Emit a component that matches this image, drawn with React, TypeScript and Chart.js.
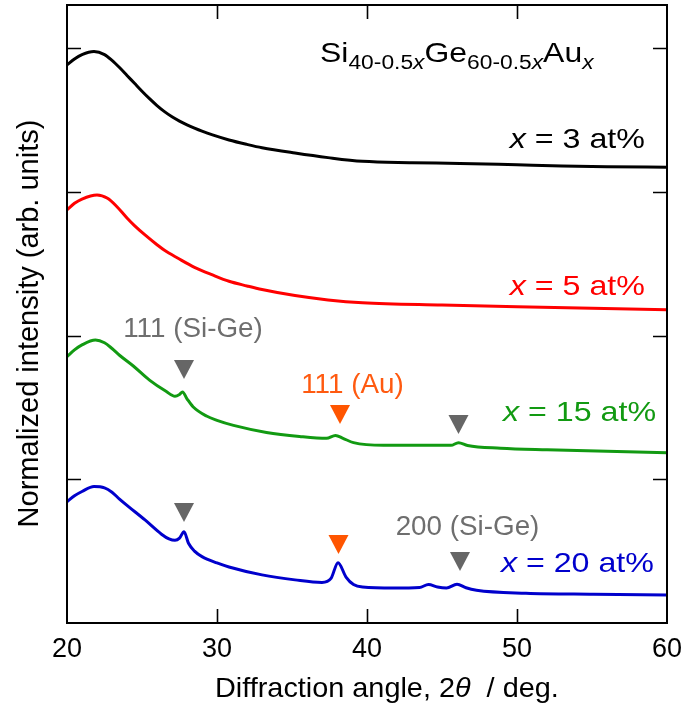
import React, { useEffect, useRef } from "react";
import { Chart, registerables } from "chart.js";

Chart.register(...registerables);

const FONT = "'Liberation Sans', Arial, Helvetica, sans-serif";

// ---- axes ----
const xTicks = [20, 30, 40, 50, 60];
const yTickLevels = [1, 2, 3, 4];

// ---- series (normalized intensity, stacked with offsets) ----
const seriesNames = ["3", "5", "15", "20"];
const seriesColors = ["#000000", "#ff0000", "#129a12", "#0000cc"];
const seriesOffsets = [3, 2, 1, 0];

const anglesX3 = [20, 20.5, 21, 21.8, 22.5, 23, 23.5, 24, 24.5, 25, 25.5, 26, 26.5, 27, 27.5, 28, 28.5, 29, 29.7, 30.8, 32, 33, 35.2, 37.4, 39.7, 43, 46.2, 50, 53, 56, 60];
const valuesX3 = [0.883, 0.925, 0.955, 0.976, 0.955, 0.915, 0.865, 0.81, 0.755, 0.7, 0.648, 0.6, 0.558, 0.522, 0.492, 0.466, 0.443, 0.422, 0.396, 0.361, 0.33, 0.307, 0.27, 0.238, 0.212, 0.203, 0.198, 0.188, 0.18, 0.175, 0.171];

const anglesX5 = [20, 20.5, 21, 22, 22.7, 23.3, 24, 24.5, 25.2, 26, 26.5, 27.4, 28.5, 29.7, 30.8, 32, 33, 35.2, 37.4, 39.7, 45, 50, 55, 60];
const valuesX5 = [0.874, 0.92, 0.95, 0.978, 0.955, 0.9, 0.818, 0.765, 0.7, 0.632, 0.593, 0.538, 0.475, 0.422, 0.378, 0.345, 0.32, 0.278, 0.248, 0.228, 0.212, 0.2, 0.19, 0.18];

const anglesX15 = [20, 20.5, 21, 21.9, 22.5, 23, 23.5, 24.4, 25.5, 26.6, 27.2, 27.5, 27.7, 28.0, 28.4, 29.3, 30, 31.1, 33.3, 35.5, 37.3, 37.9, 38.4, 39.1, 41.1, 44.4, 45.6, 46.1, 46.7, 48.9, 52, 56, 60];
const valuesX15 = [0.853, 0.9, 0.935, 0.969, 0.95, 0.91, 0.863, 0.79, 0.69, 0.612, 0.578, 0.59, 0.607, 0.56, 0.505, 0.44, 0.41, 0.375, 0.326, 0.298, 0.285, 0.305, 0.285, 0.255, 0.236, 0.236, 0.236, 0.255, 0.235, 0.216, 0.205, 0.195, 0.185];

const anglesX20 = [20, 20.5, 21, 21.8, 22.5, 23, 23.5, 24.1, 25.2, 26.3, 26.8, 27.2, 27.5, 27.8, 28.1, 28.5, 29.0, 30, 30.8, 33, 35.2, 37.0, 37.6, 38.07, 38.6, 39.1, 39.7, 41.8, 43.5, 44.1, 44.7, 45.3, 46.0, 46.6, 47.3, 50.6, 55.1, 60];
const valuesX20 = [0.844, 0.885, 0.915, 0.949, 0.94, 0.91, 0.862, 0.81, 0.717, 0.618, 0.585, 0.575, 0.59, 0.635, 0.555, 0.5, 0.462, 0.418, 0.39, 0.335, 0.3, 0.282, 0.31, 0.42, 0.32, 0.268, 0.25, 0.243, 0.247, 0.268, 0.25, 0.243, 0.27, 0.245, 0.228, 0.207, 0.2, 0.195];

const seriesAngles = [anglesX3, anglesX5, anglesX15, anglesX20];
const seriesValues = [valuesX3, valuesX5, valuesX15, valuesX20];

// series label placement (right edge angle, baseline level)
const labelRightAngles = [58.53, 58.53, 59.27, 59.13];
const labelBaselines = [3.306, 2.28, 1.406, 0.355];

// ---- peak markers ----
const markerAngles = [27.8, 38.2, 46.1, 27.8, 38.1, 46.2];
const markerTops = [1.83, 1.517, 1.447, 0.835, 0.612, 0.494];
const markerColors = ["#666666", "#ff5500", "#666666", "#666666", "#ff5500", "#666666"];

// ---- peak labels ----
const peakLabels = ["111 (Si-Ge)", "111 (Au)", "200 (Si-Ge)"];
const peakLabelAngles = [28.4, 39.03, 46.7];
const peakLabelBaselines = [1.992, 1.598, 0.612];
const peakLabelColors = ["#6e6e6e", "#ff5a10", "#6e6e6e"];

type Part = { text: string; italic?: boolean; size: number; dy?: number };

function drawRich(ctx: CanvasRenderingContext2D, parts: Part[], x: number, y: number, align: "left" | "center" | "right", sx: number, color: string) {
  ctx.save();
  ctx.fillStyle = color;
  ctx.textBaseline = "alphabetic";
  ctx.textAlign = "left";
  const widths = parts.map((p) => {
    ctx.font = `${p.italic ? "italic " : ""}${p.size}px ${FONT}`;
    return ctx.measureText(p.text).width * sx;
  });
  const total = widths.reduce((a, b) => a + b, 0);
  let cx = align === "left" ? x : align === "center" ? x - total / 2 : x - total;
  parts.forEach((p, i) => {
    ctx.font = `${p.italic ? "italic " : ""}${p.size}px ${FONT}`;
    ctx.save();
    ctx.translate(cx, y + (p.dy || 0));
    ctx.scale(sx, 1);
    ctx.fillText(p.text, 0, 0);
    ctx.restore();
    cx += widths[i];
  });
  ctx.restore();
}

const overlayPlugin = {
  id: "overlay",
  afterDraw(chart: any) {
    const { ctx, chartArea: a, scales } = chart;
    const xs = scales.x;
    const ys = scales.y;
    ctx.save();
    // frame
    ctx.strokeStyle = "#000";
    ctx.lineWidth = 2;
    ctx.strokeRect(a.left, a.top, a.right - a.left, a.bottom - a.top);
    // inside ticks
    const tl = 14;
    ctx.lineWidth = 1.6;
    ctx.beginPath();
    xTicks.forEach((v) => {
      if (v === xs.min || v === xs.max) return;
      const px = Math.round(xs.getPixelForValue(v)) + 0.5;
      ctx.moveTo(px, a.bottom);
      ctx.lineTo(px, a.bottom - tl);
      ctx.moveTo(px, a.top);
      ctx.lineTo(px, a.top + tl);
    });
    yTickLevels.forEach((v) => {
      const py = Math.round(ys.getPixelForValue(v)) + 0.5;
      ctx.moveTo(a.left, py);
      ctx.lineTo(a.left + tl, py);
      ctx.moveTo(a.right, py);
      ctx.lineTo(a.right - tl, py);
    });
    ctx.stroke();

    // markers
    markerAngles.forEach((ang, i) => {
      const px = xs.getPixelForValue(ang);
      const py = ys.getPixelForValue(markerTops[i]);
      ctx.fillStyle = markerColors[i];
      ctx.beginPath();
      ctx.moveTo(px - 10, py);
      ctx.lineTo(px + 10, py);
      ctx.lineTo(px, py + 19);
      ctx.closePath();
      ctx.fill();
    });

    // peak labels
    peakLabels.forEach((t, i) => {
      drawRich(ctx, [{ text: t, size: 27 }], xs.getPixelForValue(peakLabelAngles[i]), ys.getPixelForValue(peakLabelBaselines[i]), "center", 1.03, peakLabelColors[i]);
    });

    // series labels
    seriesNames.forEach((n, i) => {
      drawRich(
        ctx,
        [
          { text: "x", italic: true, size: 28 },
          { text: ` = ${n} at%`, size: 28 },
        ],
        xs.getPixelForValue(labelRightAngles[i]),
        ys.getPixelForValue(labelBaselines[i]),
        "right",
        1.15,
        seriesColors[i]
      );
    });

    // composition formula
    drawRich(
      ctx,
      [
        { text: "Si", size: 28 },
        { text: "40-0.5", size: 20, dy: 7 },
        { text: "x", size: 20, italic: true, dy: 7 },
        { text: "Ge", size: 28 },
        { text: "60-0.5", size: 20, dy: 7 },
        { text: "x", size: 20, italic: true, dy: 7 },
        { text: "Au", size: 28 },
        { text: "x", size: 20, italic: true, dy: 7 },
      ],
      xs.getPixelForValue(36.87),
      ys.getPixelForValue(3.906),
      "left",
      1.14,
      "#000"
    );

    // x axis title
    drawRich(
      ctx,
      [
        { text: "Diffraction angle, 2", size: 28 },
        { text: "θ", size: 28, italic: true },
        { text: "  / deg.", size: 28 },
      ],
      a.left + 148,
      a.bottom + 74,
      "left",
      1.03,
      "#000"
    );

    // y axis title
    ctx.save();
    ctx.translate(37.5, 323.5);
    ctx.rotate(-Math.PI / 2);
    ctx.fillStyle = "#000";
    ctx.font = `29px ${FONT}`;
    ctx.textAlign = "center";
    ctx.textBaseline = "alphabetic";
    ctx.fillText("Normalized intensity (arb. units)", 0, 0);
    ctx.restore();

    ctx.restore();
  },
};

export default function App() {
  const ref = useRef<HTMLCanvasElement | null>(null);
  useEffect(() => {
    document.body.style.margin = "0";
    const canvas = ref.current;
    if (!canvas) return;
    const datasets = seriesAngles.map((angs, i) => ({
      label: `x = ${seriesNames[i]} at%`,
      data: angs.map((a, j) => ({ x: a, y: seriesValues[i][j] + seriesOffsets[i] })),
      borderColor: seriesColors[i],
      backgroundColor: seriesColors[i],
      borderWidth: 3,
      pointRadius: 0,
      fill: false,
      cubicInterpolationMode: "monotone" as const,
    }));
    const chart = new Chart(canvas, {
      type: "line",
      data: { datasets },
      options: {
        responsive: false,
        animation: false,
        events: [],
        layout: { padding: { left: 67, right: 20, top: 5, bottom: 0 } },
        plugins: { legend: { display: false }, tooltip: { enabled: false }, title: { display: false } },
        scales: {
          x: {
            type: "linear",
            min: 20,
            max: 60,
            afterBuildTicks: (s: any) => {
              s.ticks = xTicks.map((v) => ({ value: v }));
            },
            afterFit: (s: any) => {
              s.height = 83;
              s.paddingLeft = 0;
              s.paddingRight = 0;
            },
            ticks: { font: { family: FONT, size: 27 }, color: "#000", padding: 10, maxRotation: 0, autoSkip: false },
            grid: { display: false, drawTicks: false },
            border: { display: false },
          },
          y: { type: "linear", min: 0, max: 4.3, display: false },
        },
      },
      plugins: [overlayPlugin],
    });
    return () => chart.destroy();
  }, []);
  return <canvas ref={ref} width={687} height={706} style={{ display: "block" }} />;
}
